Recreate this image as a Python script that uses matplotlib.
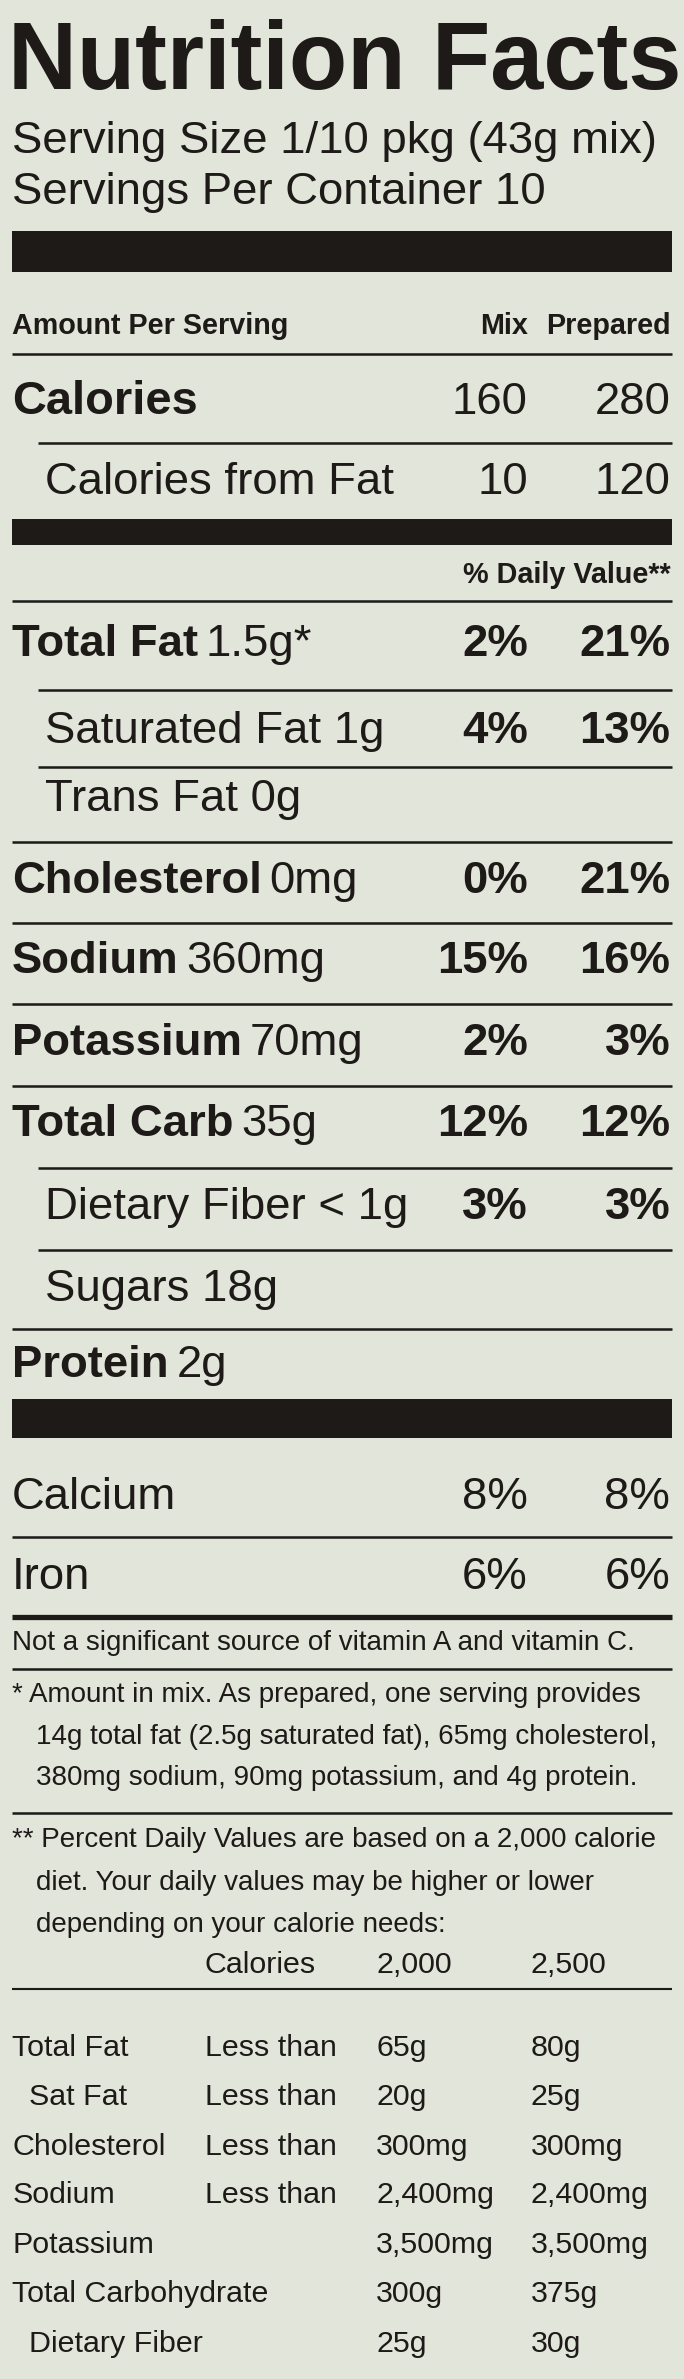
import matplotlib
matplotlib.use("Agg")
import matplotlib.pyplot as plt
from matplotlib.patches import Rectangle

W, H = 684, 2379
S = W / 451.0
BG = "#e2e5da"
FG = "#1d1a18"
FAM = ["Liberation Sans", "DejaVu Sans"]

serving = "Serving Size 1/10 pkg (43g mix)"
servings = "Servings Per Container 10"
cal_mix, cal_prep = "160", "280"
fatcal_mix, fatcal_prep = "10", "120"
nutrients = ["Total Fat", "Saturated Fat", "Trans Fat", "Cholesterol", "Sodium", "Potassium",
             "Total Carb", "Dietary Fiber", "Sugars", "Protein"]
amounts = ["1.5g*", "1g", "0g", "0mg", "360mg", "70mg", "35g", "< 1g", "18g", "2g"]
bold = [True, False, False, True, True, True, True, False, False, True]
mix_pct = ["2%", "4%", "", "0%", "15%", "2%", "12%", "3%", "", ""]
prep_pct = ["21%", "13%", "", "21%", "16%", "3%", "12%", "3%", "", ""]
vitamins = ["Calcium", "Iron"]
vit_mix = ["8%", "6%"]
vit_prep = ["8%", "6%"]
foot_rows = ["Total Fat", "  Sat Fat", "Cholesterol", "Sodium", "Potassium", "Total Carbohydrate", "  Dietary Fiber"]
foot_lim = ["Less than", "Less than", "Less than", "Less than", "", "", ""]
foot_2000 = ["65g", "20g", "300mg", "2,400mg", "3,500mg", "300g", "25g"]
foot_2500 = ["80g", "25g", "300mg", "2,400mg", "3,500mg", "375g", "30g"]

fig = plt.figure(figsize=(W/100, H/100), dpi=100)
fig.patch.set_facecolor(BG)
ax = fig.add_axes([0, 0, 1, 1])
ax.set_xlim(0, 451); ax.set_ylim(1568, 0); ax.axis("off")

def t(x, y, s, size, ha="left", weight="normal"):
    return ax.text(x, y, s, fontsize=size*S*0.72, ha=ha, va="center", color=FG,
                   fontweight=weight, family=FAM)

def bar(y0, y1, x0=8, x1=443):
    ax.add_patch(Rectangle((x0, y0), x1-x0, y1-y0, color=FG, lw=0))

def line(y, x0=8, lw=1.2):
    ax.plot([x0, 443], [y, y], color=FG, lw=lw*S, solid_capstyle="butt")

t(5, 42, "Nutrition Facts", 63, weight="heavy")
t(8, 93, serving, 30)
t(8, 127, servings, 30)
bar(152, 179)
t(8, 215, "Amount Per Serving", 19, weight="bold")
t(348, 215, "Mix", 19, ha="right", weight="bold")
t(442, 215, "Prepared", 19, ha="right", weight="bold")
line(233)
t(8, 265, "Calories", 31, weight="heavy")
t(348, 265, cal_mix, 30, ha="right"); t(442, 265, cal_prep, 30, ha="right")
line(292, x0=25)
t(30, 318, "Calories from Fat", 30)
t(348, 318, fatcal_mix, 30, ha="right"); t(442, 318, fatcal_prep, 30, ha="right")
bar(342, 359)
t(442, 379, "% Daily Value**", 19, ha="right", weight="bold")
line(396)

ys = [425, 482, 527, 581, 634, 688, 741, 796, 850, 900]
fig.canvas.draw()
for i, (n, a, b, m, p) in enumerate(zip(nutrients, amounts, bold, mix_pct, prep_pct)):
    y = ys[i]
    x = 8 if b else 30
    if b:
        txt = t(x, y, n, 30, weight="heavy")
        bb = txt.get_window_extent(fig.canvas.get_renderer()).transformed(ax.transData.inverted())
        t(bb.x1 + 5, y, a, 30)
    else:
        t(x, y, n + " " + a, 30)
    if m:
        t(348, y, m, 30, ha="right", weight="bold")
        t(442, y, p, 30, ha="right", weight="bold")
    if i < len(nutrients) - 1:
        line((ys[i] + ys[i+1]) / 2 + 1, x0=25 if not bold[i+1] else 8)

bar(922, 948)
for y, n, m, p in zip([987, 1040], vitamins, vit_mix, vit_prep):
    t(8, y, n, 30)
    t(348, y, m, 30, ha="right"); t(442, y, p, 30, ha="right")
line(1013)
line(1066, lw=2.5)
FS = 18.3
t(8, 1083, "Not a significant source of vitamin A and vitamin C.", FS)
line(1100)
t(8, 1117, "* Amount in mix. As prepared, one serving provides", FS)
t(24, 1145, "14g total fat (2.5g saturated fat), 65mg cholesterol,", FS)
t(24, 1172, "380mg sodium, 90mg potassium, and 4g protein.", FS)
line(1195)
t(8, 1213, "** Percent Daily Values are based on a 2,000 calorie", FS)
t(24, 1241, "diet. Your daily values may be higher or lower", FS)
t(24, 1269, "depending on your calorie needs:", FS)
t(135, 1295, "Calories", 20); t(248, 1295, "2,000", 20); t(350, 1295, "2,500", 20)
line(1311, lw=1.0)
fy = [1350, 1382, 1415, 1447, 1480, 1512, 1545]
for y, r, l, a, b in zip(fy, foot_rows, foot_lim, foot_2000, foot_2500):
    t(8, y, r, 20); t(135, y, l, 20); t(248, y, a, 20); t(350, y, b, 20)

fig.savefig("out.png", dpi=100, facecolor=BG)
